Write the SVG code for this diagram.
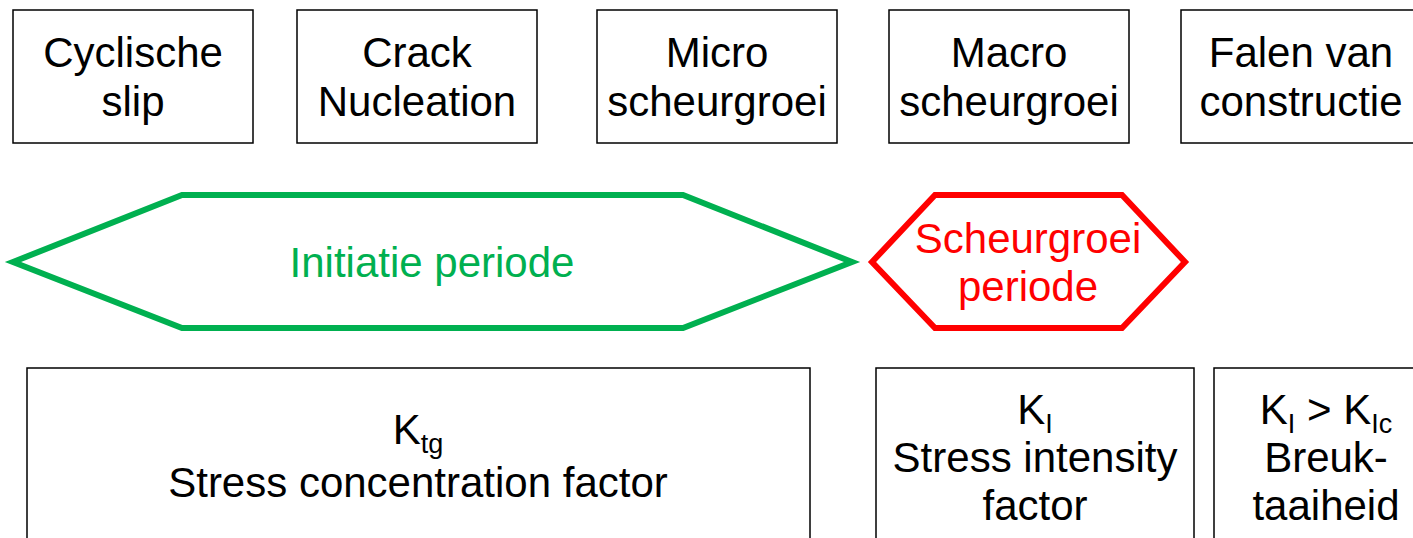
<svg xmlns="http://www.w3.org/2000/svg" width="1413" height="538" viewBox="0 0 1413 538">
<style>
.box{fill:#fff;stroke:#000;stroke-width:1.5}
.t{font-family:"Liberation Sans",Arial,sans-serif;font-size:42px;text-anchor:middle;fill:#000}
.sub{font-size:27px}
.g{fill:#00B050}
.r{fill:#FF0000}
.hexg{fill:#fff;stroke:#00B050;stroke-width:6;stroke-linejoin:miter;stroke-miterlimit:10}
.hexr{fill:#fff;stroke:#FF0000;stroke-width:6;stroke-linejoin:miter;stroke-miterlimit:10}
</style>
<rect width="1413" height="538" fill="#fff"/>
<g id="n-cyclische">
<rect class="box" x="13" y="10" width="240" height="133"/>
<text class="t" x="133" y="67">Cyclische</text>
<text class="t" x="133" y="116">slip</text>
</g>
<g id="n-crack">
<rect class="box" x="297" y="10" width="240" height="133"/>
<text class="t" x="417" y="67">Crack</text>
<text class="t" x="417" y="116">Nucleation</text>
</g>
<g id="n-micro">
<rect class="box" x="597" y="10" width="240" height="133"/>
<text class="t" x="717" y="67">Micro</text>
<text class="t" x="717" y="116">scheurgroei</text>
</g>
<g id="n-macro">
<rect class="box" x="889" y="10" width="240" height="133"/>
<text class="t" x="1009" y="67">Macro</text>
<text class="t" x="1009" y="116">scheurgroei</text>
</g>
<g id="n-falen">
<rect class="box" x="1181" y="10" width="240" height="133"/>
<text class="t" x="1301" y="67">Falen van</text>
<text class="t" x="1301" y="116">constructie</text>
</g>
<g id="n-initiatie">
<polygon class="hexg" points="13,262 182,195 683,195 852,262 683,328 182,328"/>
<text class="t g" x="432" y="277">Initiatie periode</text>
</g>
<g id="n-scheurgroei">
<polygon class="hexr" points="872,262 935,195 1122,195 1185,262 1122,328 935,328"/>
<text class="t r" x="1028" y="253">Scheurgroei</text>
<text class="t r" x="1028" y="301">periode</text>
</g>
<g id="n-ktg">
<rect class="box" x="27" y="368" width="783" height="200"/>
<text class="t" x="418" y="444">K<tspan class="sub" dy="9">tg</tspan></text>
<text class="t" x="418" y="497">Stress concentration factor</text>
</g>
<g id="n-ki">
<rect class="box" x="876" y="368" width="318" height="200"/>
<text class="t" x="1035" y="424">K<tspan class="sub" dy="9">I</tspan></text>
<text class="t" x="1035" y="472">Stress intensity</text>
<text class="t" x="1035" y="520">factor</text>
</g>
<g id="n-kic">
<rect class="box" x="1214" y="368" width="224" height="200"/>
<text class="t" x="1326" y="424">K<tspan class="sub" dy="9">I</tspan><tspan dy="-9"> &gt; K</tspan><tspan class="sub" dy="9">Ic</tspan></text>
<text class="t" x="1326" y="472">Breuk-</text>
<text class="t" x="1326" y="520">taaiheid</text>
</g>
<g id="connectors"/>
</svg>
